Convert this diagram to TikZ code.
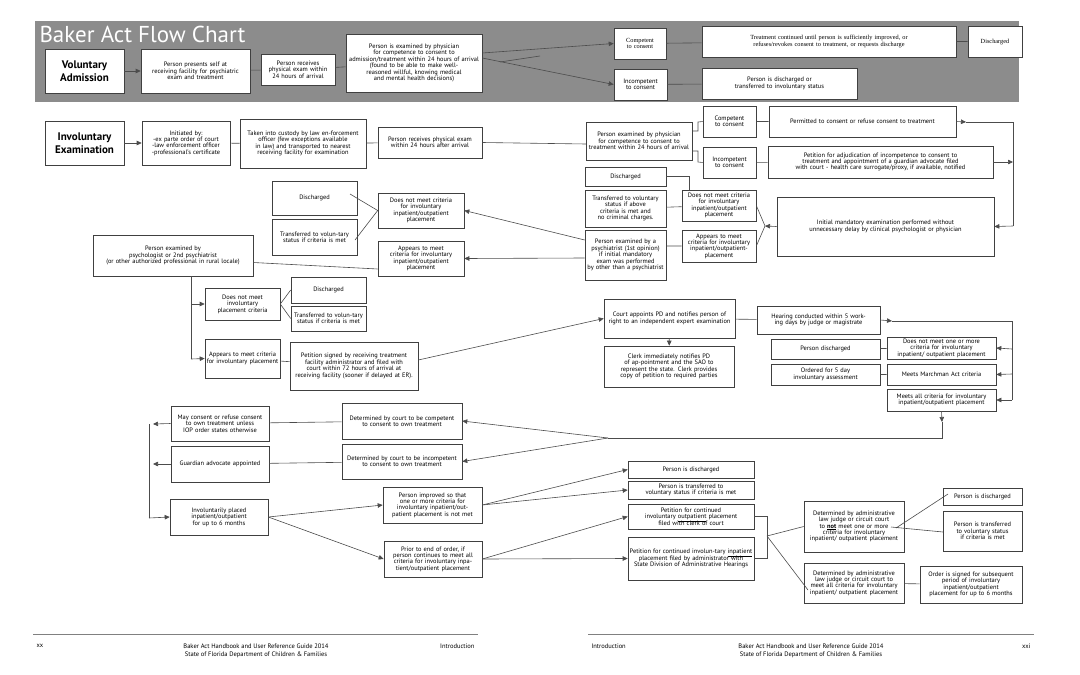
\documentclass[tikz,border=0pt]{standalone}
\usepackage{fontspec}
\setmainfont{PT Sans}
\newfontfamily\serifbox{Liberation Serif}
\usetikzlibrary{positioning,arrows.meta}
\tikzset{
  box/.style={draw=black!75,line width=0.6pt,fill=white,inner sep=0pt,align=center,
    font=\fontsize{6.4}{6.4}\selectfont,
    execute at begin node={\hyphenpenalty=10000\relax}},
  head/.style={box,font=\bfseries\fontsize{11}{12.5}\selectfont},
  link/.style={draw=black!70,line width=0.6pt},
  arr/.style={link,-{Triangle[length=5pt,width=4.5pt]}},
}
\newcommand\ulw[1]{\smash{\underline{#1}}}
% box from its corners in page pixels
\newcommand\bx[7][]{%
  \pgfmathsetmacro\bxcx{(#3+#5)/2}\pgfmathsetmacro\bxcy{(#4+#6)/2}%
  \pgfmathsetmacro\bxw{#5-#3}\pgfmathsetmacro\bxh{#6-#4}%
  \pgfmathsetmacro\bxtw{#5-#3-2}%
  \node[box,#1,minimum width=\bxw pt,minimum height=\bxh pt,text width=\bxtw pt] (#2) at (\bxcx,\bxcy) {#7};}
\begin{document}
\begin{tikzpicture}[x=1pt,y=-1pt]
\useasboundingbox (0,0) rectangle (1080,675);
\fill[black!45] (35,21) rectangle (1019,102);
\node[anchor=west,text=white,font=\fontsize{23}{23}\selectfont] (title) at (36,34) {Baker Act Flow Chart};

% voluntary admission
\bx[head]{vol}{45}{49}{124}{93}{Voluntary\\Admission}
\bx{presents}{141}{49}{250}{93}{Person presents self at receiving facility for psychiatric exam and treatment}
\bx{vexam}{261}{54}{335}{85}{Person receives physical exam within 24 hours of arrival}
\bx{vcomp}{346}{34}{482}{92}{Person is examined by physician for competence to consent to admission/treatment within 24 hours of arrival\\(found to be able to make well-reasoned willful, knowing medical and mental health decisions)}
\bx[font=\serifbox\fontsize{6.3}{6.5}\selectfont]{vyes}{614}{28}{666}{59}{Competent to consent}
\bx{vno}{614}{69}{667}{100}{Incompetent to consent}
\bx[font=\serifbox\fontsize{6.3}{6.5}\selectfont]{vcont}{702}{26}{956}{57}{Treatment continued until person is sufficiently improved, or refuses/revokes consent to treatment, or requests discharge}
\bx[font=\serifbox\fontsize{6.3}{6.5}\selectfont]{vdis}{968}{26}{1022}{57}{Discharged}
\bx{vinv}{702}{68}{857}{99}{Person is discharged or transferred to involuntary status}
\draw[arr] (124,71) -- (presents.west);
\draw[link] (presents) -- (vexam) (vexam) -- (vcomp);
\draw[arr] (vcomp.east) ++(0,-10) -- (vyes.west);
\draw[arr] (vcomp.east) ++(0,-5) -- (vno.west);
\draw[link] (500,62) -- (540,56);
\draw[link] (vyes) -- (vcont) (vcont) -- (vdis) (vno) -- (vinv);

% involuntary examination
\bx[head]{invol}{45}{121}{124}{165}{Involuntary\\Examination}
\bx{init}{142}{121}{230}{165}{Initiated by:\\-ex parte order of court\\-law enforcement officer\\-professional's certificate}
\bx{custody}{240}{119}{366}{168}{Taken into custody by law en-forcement officer (few exceptions available in law) and transported to nearest receiving facility for examination}
\bx{iexam}{378}{127}{482}{158}{Person receives physical exam within 24 hours after arrival}
\bx{icomp}{586}{122}{692}{160}{Person examined by physician for competence to consent to treatment within 24 hours of arrival}
\bx{iyes}{703}{106}{756}{137}{Competent to consent}
\bx{permit}{769}{106}{956}{137}{Permitted to consent or refuse consent to treatment}
\bx{ino}{703}{147}{756}{178}{Incompetent to consent}
\bx{adjud}{768}{146}{993}{178}{Petition for adjudication of incompetence to consent to treatment and appointment of a guardian advocate filed with court - health care surrogate/proxy, if available, notified}
\bx{initial}{777}{197}{994}{256}{Initial mandatory examination performed without unnecessary delay by clinical psychologist or physician}
\draw[arr] (invol) -- (init);
\draw[link] (init) -- (custody) (custody) -- (iexam) (iexam.east) -- (586,144);
\draw[link] (icomp.east) ++(0,-10) -| (698,122) -- (iyes.west);
\draw[link] (icomp.east) ++(0,10) -| (698,162) -- (ino.west);
\draw[link] (iyes) -- (permit) (ino) -- (adjud);
\coordinate (rb) at (1013,122);
\draw[arr] (permit.east) -- (966,122);
\draw[link] (966,122) -- (rb) -- (1013,226);
\draw[arr] (adjud.east) -- (1013,162);
\draw[arr] (1013,226) -- (initial.east);

% first opinion cluster
\bx{odis}{585}{167}{666}{186}{Discharged}
\bx{otrans}{585}{190}{666}{227}{Transferred to voluntary status if above criteria is met and no criminal charges.}
\bx{psych}{585}{230}{666}{280}{Person examined by a psychiatrist (1st opinion) if initial mandatory exam was performed by other than a psychiatrist}
\bx{onot}{682}{190}{756}{221}{Does not meet criteria for involuntary inpatient/outpatient placement}
\bx{oyes}{682}{230}{756}{262}{Appears to meet criteria for involuntary inpatient/outpatient-placement}
\coordinate (ofan) at (765,226);
\draw[arr] (initial.west) -- (ofan);
\draw[link] (ofan) -- (onot.east) (ofan) -- (oyes.east);
\draw[link] (odis.east) -| (689,190);
\draw[link] (otrans) -- (onot) (psych.east |- oyes) -- (oyes.west);

% second opinion cluster
\bx{sdis}{272}{181}{357}{215}{Discharged}
\bx{strans}{272}{219}{357}{255}{Transferred to volun-tary status if criteria is met}
\bx{snot}{378}{193}{464}{228}{Does not meet criteria for involuntary inpatient/outpatient placement}
\bx{syes}{378}{241}{464}{276}{Appears to meet criteria for involuntary inpatient/outpatient placement}
\bx{second}{93}{235}{253}{276}{Person examined by\\psychologist or 2nd psychiatrist\\(or other authorized professional in rural locale)}
\draw[arr] (psych.west) ++(0,-15) -- (snot.east);
\draw[arr] (psych.west) ++(0,3) -- (syes.east);
\draw[link] (350,194) -- (snot.west) (355,240) -- (snot.west);
\draw[link] (second.east) ++(0,7) -- (syes.west |- 0,269);

\bx{pnot}{205}{288}{280}{320}{Does not meet involuntary placement criteria}
\bx{pdis}{291}{277}{366}{303}{Discharged}
\bx{ptrans}{291}{306}{366}{331}{Transferred to volun-tary status if criteria is met}
\bx{pyes}{205}{339}{280}{378}{Appears to meet criteria for involuntary placement}
\bx{petition}{290}{342}{418}{390}{Petition signed by receiving treatment facility administrator and filed with court within 72 hours of arrival at receiving facility (sooner if delayed at ER).}
\draw[link] (191,276) -- (191,359);
\draw[arr] (191,304) -- (pnot.west);
\draw[arr] (191,359) -- (pyes.west);
\draw[link] (pnot.east) -- (pdis.west) (pnot.east) -- (ptrans.west);
\draw[link] (pyes) -- (petition);

% court
\bx{court}{604}{299}{735}{338}{Court appoints PD and notifies person of right to an independent expert examination}
\bx{clerk}{604}{346}{734}{387}{Clerk immediately notifies PD of ap-pointment and the SAO to represent the state. Clerk provides copy of petition to required parties}
\bx{hearing}{757}{306}{880}{334}{Hearing conducted within 5 work-ing days by judge or magistrate}
\bx{hdis}{771}{339}{880}{359}{Person discharged}
\bx{hnot}{887}{337}{996}{359}{Does not meet one or more criteria for involuntary inpatient/ outpatient placement}
\bx{five}{771}{364}{880}{385}{Ordered for 5 day involuntary assessment}
\bx{march}{887}{364}{996}{385}{Meets Marchman Act criteria}
\bx{meets}{887}{389}{996}{411}{Meets all criteria for involuntary inpatient/outpatient placement}
\draw[arr] (petition.east) ++(0,-6) -- (court.west);
\draw[arr] (court) -- (clerk);
\draw[link] (court) -- (hearing);
\draw[arr] (hearing.east) -- (892,321);
\draw[link] (892,321) -- (1012,321) -- (1012,400);
\draw[arr] (1012,349) -- (hnot.east);
\draw[arr] (1012,374) -- (march.east);
\draw[arr] (1012,400) -- (meets.east);
\draw[link] (hdis) -- (hnot) (five) -- (march);
\coordinate (cfan) at (608,438);
\draw[arr] (meets.south) -- (942,422);
\draw[link] (942,422) -- (942,438) -- (cfan);

% court determination
\bx{dcomp}{342}{403}{462}{439}{Determined by court to be competent to consent to own treatment}
\bx{dinc}{342}{444}{462}{479}{Determined by court to be incompetent to consent to own treatment}
\bx{may}{171}{406}{269}{441}{May consent or refuse consent to own treatment unless IOP order states otherwise}
\bx{guard}{171}{446}{269}{482}{Guardian advocate appointed}
\bx{placed}{170}{499}{268}{535}{Involuntarily placed inpatient/outpatient for up to 6 months}
\draw[arr] (cfan) -- (dcomp.east);
\draw[arr] (cfan) -- (dinc.east);
\draw[link] (dcomp) -- (may) (dinc) -- (guard);
\draw[link] (149,424) -- (149,518);
\draw[arr] (may.west) -- (153,424);
\draw[arr] (guard.west) -- (153,464);
\draw[arr] (149,518) -- (placed.west);

\bx{improved}{383}{487}{482}{523}{Person improved so that one or more criteria for involuntary inpatient/out-patient placement is not met}
\bx{prior}{384}{541}{482}{577}{Prior to end of order, if person continues to meet all criteria for involuntary inpa-tient/outpatient placement}
\draw[arr] (placed.east) -- (improved.west);
\draw[arr] (placed.east) -- (prior.west);

\bx{mdis}{628}{461}{754}{478}{Person is discharged}
\bx{mtrans}{628}{481}{754}{499}{Person is transferred to voluntary status if criteria is met}
\bx{outpt}{628}{504}{754}{529}{Petition for continued involuntary \ulw{outpatient} placement filed with clerk of court}
\bx{inpt}{628}{537}{754}{580}{Petition for continued involun-tary \ulw{inpatient} placement filed by administrator with State Division of Administrative Hearings}
\draw[arr] (improved.east) -- (mdis.west);
\draw[arr] (improved.east) -- (mtrans.west);
\draw[arr] (prior.east) -- (outpt.west);
\draw[arr] (prior.east) -- (inpt.west);
\coordinate (pfan) at (767,536);
\draw[link] (outpt.east) -| (pfan) (inpt.east) -| (pfan);

\bx{alnot}{804}{501}{904}{552}{Determined by administrative law judge or circuit court to \ulw{\textbf{not}} meet one or more criteria for involuntary inpatient/ outpatient placement}
\bx{alyes}{804}{563}{904}{603}{Determined by administrative law judge or circuit court to meet all criteria for involuntary inpatient/ outpatient placement}
\bx{rdis}{943}{488}{1022}{505}{Person is discharged}
\bx{rtrans}{943}{511}{1022}{551}{Person is transferred to voluntary status if criteria is met}
\bx{order}{920}{566}{1022}{603}{Order is signed for subsequent period of involuntary inpatient/outpatient placement for up to 6 months}
\draw[link] (pfan) -- (alnot.west) (pfan) -- (808,590);
\draw[link] (896,528) -- (948,494) (891,527) -- (943,532);
\draw[link] (alyes) -- (order);

% footer
\draw[black!50,line width=1pt] (33,634) -- (478,634) (588,634) -- (1034,634);
\node[anchor=west,font=\fontsize{6.5}{7}\selectfont] (pgl) at (33,646) {xx};
\node[font=\fontsize{6.5}{8}\selectfont,align=center] (footl) at (256,651) {Baker Act Handbook and User Reference Guide 2014\\State of Florida Department of Children \& Families};
\node[anchor=east,font=\fontsize{6.5}{7}\selectfont] (introl) at (478,646) {Introduction};
\node[anchor=west,font=\fontsize{6.5}{7}\selectfont] (intror) at (588,646) {Introduction};
\node[font=\fontsize{6.5}{8}\selectfont,align=center] (footr) at (811,651) {Baker Act Handbook and User Reference Guide 2014\\State of Florida Department of Children \& Families};
\node[anchor=east,font=\fontsize{6.5}{7}\selectfont] (pgr) at (1034,646) {xxi};
\end{tikzpicture}
\end{document}
